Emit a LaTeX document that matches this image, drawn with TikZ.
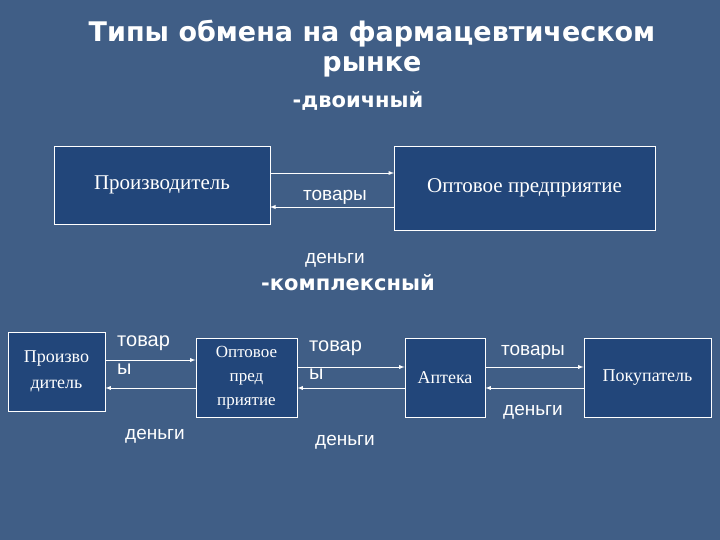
\documentclass[tikz,border=0pt]{standalone}
\usepackage{fontspec}
\setmainfont{Liberation Serif}
\newfontfamily\lab{Liberation Sans}
\newfontfamily\ttl{DejaVu Sans}
\begin{document}
\begin{tikzpicture}[x=1pt,y=-1pt,
  bx/.style={draw=white,line width=0.9pt,fill=boxblue,text=white,align=center,inner sep=0pt},
  ar/.style={draw=white,line width=0.9pt,-latex},
  lb/.style={text=white,font=\lab\fontsize{19}{20}\selectfont,align=left,inner sep=0pt},
  tt/.style={text=white,font=\ttl\bfseries\fontsize{27}{30}\selectfont,align=center,inner sep=0pt}]
\definecolor{bg}{HTML}{405E86}
\definecolor{boxblue}{HTML}{22467A}
\fill[bg] (0,0) rectangle (720,540);
\useasboundingbox (0,0) rectangle (720,540);
\node[tt] (t1) at (372,49) {Типы обмена на фармацевтическом\\рынке};
\node[tt,font=\ttl\bfseries\fontsize{21}{24}\selectfont] (t2) at (358,101) {-двоичный};
\node[bx,minimum width=216pt,minimum height=78pt,font=\fontsize{21}{22}\selectfont] (p) at (162,185) {Производитель};
\node[bx,minimum width=261pt,minimum height=84pt,font=\fontsize{21}{22}\selectfont] (o) at (524.5,188) {Оптовое предприятие};
\coordinate (a1) at (270,173); \coordinate (a2) at (394,173);
\coordinate (b1) at (394,207); \coordinate (b2) at (270,207);
\draw[ar] (a1) -- (a2);
\draw[ar] (b1) -- (b2);
\node[lb] (l1) at (335,197) {товары};
\node[lb] (l2) at (335,260) {деньги};
\node[tt,font=\ttl\bfseries\fontsize{21}{24}\selectfont] (t3) at (348,283) {-комплексный};
\node[bx,minimum width=97pt,minimum height=79pt,font=\fontsize{18}{26}\selectfont] (q1) at (56.5,371.5) {Произво\\дитель};
\node[bx,minimum width=101pt,minimum height=79pt,font=\fontsize{17}{24}\selectfont] (q2) at (246.5,377.5) {Оптовое\\пред\\приятие};
\node[bx,minimum width=80pt,minimum height=79pt,font=\fontsize{18}{20}\selectfont] (q3) at (445,377.5) {Аптека};
\node[bx,minimum width=127pt,minimum height=79pt,font=\fontsize{18}{20}\selectfont] (q4) at (647.5,377.5) {Покупатель};
\draw[ar] (q1.east |- 0,360) -- (q2.west |- 0,360);
\draw[ar] (q2.west |- 0,388) -- (q1.east |- 0,388);
\draw[ar] (q2.east |- 0,367) -- (q3.west |- 0,367);
\draw[ar] (q3.west |- 0,388) -- (q2.east |- 0,388);
\draw[ar] (q3.east |- 0,367) -- (q4.west |- 0,367);
\draw[ar] (q4.west |- 0,388) -- (q3.east |- 0,388);
\node[lb,anchor=north west,font=\lab\fontsize{20}{28}\selectfont] (m1) at (117,336) {товар\\ы};
\node[lb] (m2) at (155,436) {деньги};
\node[lb,anchor=north west,font=\lab\fontsize{20}{28}\selectfont] (m3) at (309,341) {товар\\ы};
\node[lb] (m4) at (345,442) {деньги};
\node[lb] (m5) at (533,352) {товары};
\node[lb] (m6) at (533,412) {деньги};
\end{tikzpicture}
\end{document}
